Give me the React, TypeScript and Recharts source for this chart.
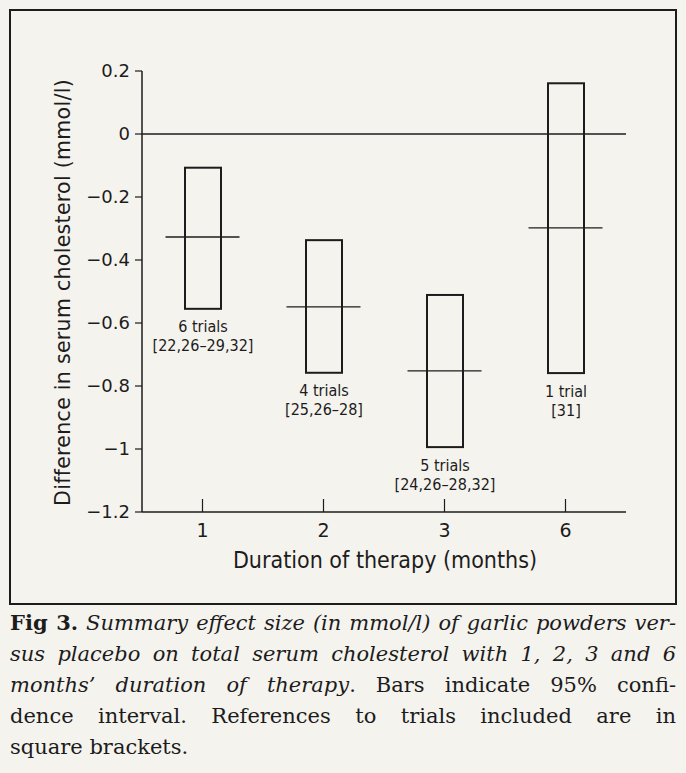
import { ComposedChart, Bar, Line, XAxis, YAxis, ReferenceLine, LabelList } from 'recharts';

// months of therapy and 95% CI of the difference (mmol/l)
const months = ['1', '2', '3', '6'];
const ciLow = [-0.555, -0.758, -0.994, -0.759];
const ciHigh = [-0.107, -0.337, -0.511, 0.161];
const meanDiff = [-0.327, -0.549, -0.752, -0.298];
const trialCounts = ['6 trials', '4 trials', '5 trials', '1 trial'];
const trialRefs = ['[22,26–29,32]', '[25,26–28]', '[24,26–28,32]', '[31]'];
const yTicks = [-1.2, -1, -0.8, -0.6, -0.4, -0.2, 0, 0.2];

const data = months.map((m, i) => ({
  month: m,
  ci: [ciLow[i], ciHigh[i]],
  mean: meanDiff[i],
  count: trialCounts[i],
  refs: trialRefs[i],
}));

const INK = '#1c1c1c';
const PAPER = '#f5f3ee';
const SANS = "'DejaVu Sans', sans-serif";
const NARROW = "'Liberation Sans Narrow', 'DejaVu Sans Condensed', 'Roboto', sans-serif";

const fmtY = (v: number) => (v === 0 ? '0' : (v < 0 ? '−' : '') + String(Math.abs(v)));

const BoxShape = (props: any) => {
  const { x, y, width, height } = props;
  const top = Math.min(y, y + height);
  const h = Math.abs(height);
  return <rect x={x} y={top} width={width} height={h} fill="none" stroke={INK} strokeWidth={2} />;
};

const MeanDash = (props: any) => {
  const { cx, cy, index } = props;
  return <line key={index} x1={cx - 37} x2={cx + 37} y1={cy} y2={cy} stroke={INK} strokeWidth={1.3} />;
};

const TrialLabel = (props: any) => {
  const { x, y, width, height, index } = props;
  const bottom = Math.max(y, y + height);
  const cx = x + width / 2;
  return (
    <g fontFamily={NARROW} fontSize={16} fill={INK}>
      <text x={cx} y={bottom + 18} textAnchor="middle" dominantBaseline="central">{trialCounts[index]}</text>
      <text x={cx} y={bottom + 37} textAnchor="middle" dominantBaseline="central">{trialRefs[index]}</text>
    </g>
  );
};

const XTick = (props: any) => {
  const { x, y, payload } = props;
  return (
    <g>
      <line x1={x} x2={x} y1={y - 13} y2={y} stroke={INK} strokeWidth={1.2} />
      <text x={x} y={y + 18} textAnchor="middle" dominantBaseline="central" fontFamily={SANS} fontSize={19} fill={INK}>
        {payload.value}
      </text>
    </g>
  );
};

const XTitle = (props: any) => {
  const { viewBox } = props;
  return (
    <text x={viewBox.x + viewBox.width / 2 + 1} y={viewBox.y + 48} textAnchor="middle" dominantBaseline="central"
      fontFamily={NARROW} fontSize={23} fill={INK}>
      Duration of therapy (months)
    </text>
  );
};

const YTitle = (props: any) => {
  const { viewBox } = props;
  const cx = viewBox.x + 63;
  const cy = viewBox.y + viewBox.height / 2 + 1;
  return (
    <text x={cx} y={cy} transform={`rotate(-90 ${cx} ${cy})`} textAnchor="middle" dominantBaseline="central"
      fontFamily={SANS} fontSize={20.5} letterSpacing={0.3} fill={INK}>
      Difference in serum cholesterol (mmol/l)
    </text>
  );
};

const line = { textAlign: 'justify' as const, textAlignLast: 'justify' as const, whiteSpace: 'nowrap' as const };

export default function App() {
  return (
    <div style={{ position: 'absolute', left: 0, top: 0, width: 686, height: 773, background: PAPER, overflow: 'hidden' }}>
      <div style={{ position: 'absolute', left: 9, top: 9, width: 668, height: 596, border: `2px solid ${INK}`, boxSizing: 'border-box' }} />
      <div style={{ position: 'absolute', left: 0, top: 0 }}>
        <ComposedChart width={686} height={620} data={data} margin={{ top: 71, right: 60, bottom: 0, left: 0 }}>
          <XAxis dataKey="month" type="category" tickSize={0} tickMargin={0} tickLine={false}
            axisLine={{ stroke: INK, strokeWidth: 1.5 }} tick={<XTick />} height={108} interval={0}
            label={(p: any) => <XTitle {...p} />} />
          <XAxis xAxisId="top" dataKey="month" orientation="top" height={0} tick={false} tickLine={false}
            axisLine={{ stroke: INK, strokeWidth: 1.5 }} />
          <YAxis type="number" domain={[-1.2, 0.2]} ticks={yTicks} tickFormatter={fmtY} width={142}
            tickSize={7} tickMargin={5} interval={0}
            tick={{ fill: INK, fontSize: 18, fontFamily: SANS }}
            tickLine={{ stroke: INK, strokeWidth: 1.2 }}
            axisLine={{ stroke: INK, strokeWidth: 1.5 }}
            label={(p: any) => <YTitle {...p} />} />
          <YAxis yAxisId="right" orientation="right" width={0} domain={[-1.2, 0.2]} tick={false} tickLine={false}
            axisLine={{ stroke: INK, strokeWidth: 1.5 }} />
          <ReferenceLine y={0} stroke={INK} strokeWidth={1.5} />
          <Bar dataKey="ci" barSize={36} shape={<BoxShape />} isAnimationActive={false}>
            <LabelList dataKey="count" content={<TrialLabel />} />
          </Bar>
          <Line dataKey="mean" stroke="none" dot={<MeanDash />} activeDot={false} isAnimationActive={false} />
        </ComposedChart>
      </div>
      <div style={{ position: 'absolute', left: 10, top: 607, width: 666, fontFamily: "'DejaVu Serif', serif",
        fontSize: 21, lineHeight: '31px', color: INK }}>
        <div style={line}>
          <b>Fig 3.</b> <i>Summary effect size (in mmol/l) of garlic powders ver-</i>
        </div>
        <div style={line}>
          <i>sus placebo on total serum cholesterol with 1, 2, 3 and 6</i>
        </div>
        <div style={line}>
          <i>months’ duration of therapy</i>. Bars indicate 95% confi-
        </div>
        <div style={line}>
          dence interval. References to trials included are in
        </div>
        <div>square brackets.</div>
      </div>
    </div>
  );
}
